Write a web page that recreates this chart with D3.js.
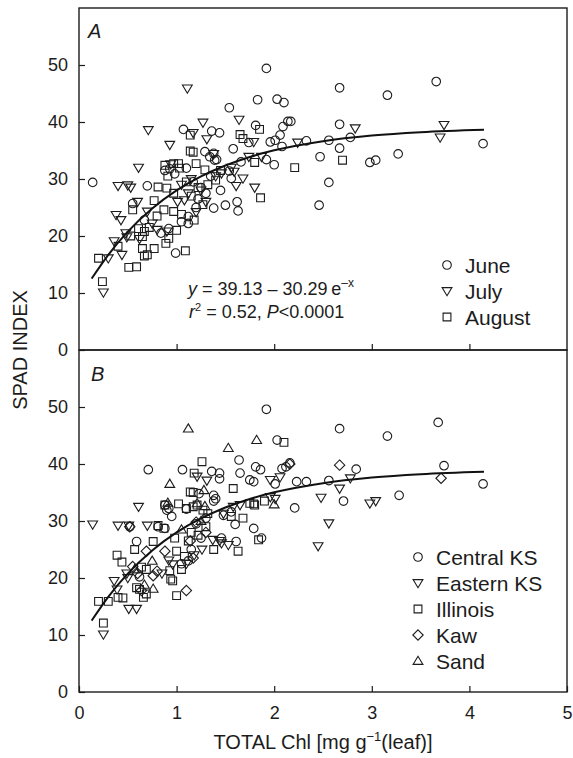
<!DOCTYPE html>
<html><head><meta charset="utf-8">
<script src="https://cdn.jsdelivr.net/npm/d3@7"></script>
<style>
body{margin:0;background:#fff}
svg{display:block}
text{font-family:"Liberation Sans",Arial,sans-serif;fill:#1c1c1c}
</style>
</head><body>
<svg id="chart" width="573" height="758"></svg>
<script>
// ---------- data ----------
const xTicks = [0, 1, 2, 3, 4, 5];
const yTicks = [0, 10, 20, 30, 40, 50];
const monthNames = ["June", "July", "August"];
const siteNames = ["Central KS", "Eastern KS", "Illinois", "Kaw", "Sand"];

// Panel A (by month): [TOTAL Chl, SPAD]
const juneA = [[0.14,29.4],[0.70,28.8],[0.67,22.8],[0.84,20.5],[0.92,21.3],[0.99,17.0],[0.93,31.8],[0.98,30.9],
 [1.07,38.7],[1.36,38.4],[1.44,38.1],[1.29,34.8],[1.38,34.5],[1.39,33.3],[1.58,35.3],[1.54,42.5],[1.81,39.4],
 [1.83,43.9],[1.92,49.4],[2.03,44.0],[2.10,43.4],[1.74,36.4],[1.96,36.5],[2.01,36.8],[2.06,37.7],[2.09,39.2],
 [2.14,40.1],[2.17,40.1],[2.08,35.7],[2.33,36.7],[2.47,33.9],[2.67,46.0],[3.16,44.7],[3.66,47.1],[2.67,39.6],
 [2.78,37.3],[2.56,36.8],[2.67,35.4],[2.98,32.9],[3.04,33.3],[3.27,34.4],[2.56,29.4],[2.46,25.4],[4.14,36.2],
 [1.92,33.4],[2.00,32.5],[1.66,33.0],[1.54,31.4],[1.56,30.1],[1.50,25.4],[1.62,26.0],[1.63,24.4],[1.38,24.9],
 [1.05,22.5],[1.12,22.2],[1.12,23.4],[1.10,31.9],[0.88,31.5],[1.17,29.5],[1.25,28.5],[1.22,26.5],[1.30,27.5],
 [1.20,25.0],[1.45,28.0],[1.35,30.5],[0.55,25.7],[1.34,33.9],[1.41,33.4]];
const julyA = [[1.11,45.9],[1.27,39.9],[1.64,40.4],[0.71,38.6],[1.17,38.1],[1.31,37.0],[1.79,36.5],[2.24,36.4],
 [0.93,36.0],[1.38,34.4],[0.61,32.0],[0.40,28.8],[0.50,28.9],[0.53,28.5],[2.83,38.9],[3.74,39.5],[3.70,37.3],
 [1.74,33.9],[1.87,33.9],[1.56,32.0],[1.46,31.0],[1.68,30.1],[1.61,28.8],[1.80,28.5],[1.59,31.3],[0.60,26.0],
 [0.70,24.3],[0.38,23.7],[0.43,22.8],[1.01,26.0],[1.08,26.3],[0.75,22.2],[0.80,21.1],[0.48,20.5],[0.49,19.8],
 [0.36,19.1],[0.44,16.7],[0.30,16.1],[0.25,10.1],[0.94,32.6],[1.15,30.0],[1.25,28.0],[1.30,26.0],[1.20,24.2],
 [1.12,27.5],[0.62,19.5],[0.90,20.8],[1.40,30.5],[1.05,29.0]];
const augustA = [[1.14,37.7],[1.85,38.7],[1.65,37.8],[1.68,37.1],[1.14,34.9],[1.17,34.7],[2.21,32.0],[1.02,32.7],
 [1.20,32.7],[0.81,28.6],[0.90,28.4],[2.70,33.3],[1.86,26.7],[1.80,32.9],[0.88,32.4],[0.97,32.7],[1.03,31.9],
 [1.29,31.6],[0.77,26.2],[0.55,24.6],[0.87,24.6],[0.97,24.3],[0.61,21.3],[0.67,20.8],[0.92,19.6],[0.89,18.7],
 [0.65,19.9],[0.53,20.0],[0.40,18.2],[0.20,16.1],[0.65,17.8],[0.77,17.8],[0.67,16.5],[0.70,16.7],[1.09,17.4],
 [0.51,14.5],[0.59,14.6],[0.24,12.0],[0.91,30.5],[1.10,29.5],[1.15,27.0],[1.22,28.5],[1.27,25.5],[1.05,23.8],
 [1.18,22.8],[1.32,29.0],[0.97,27.5],[1.00,21.0],[0.80,23.5],[1.40,29.8],[1.45,31.5],[0.72,21.5]];

// Panel B (by site)
const centralKS = [[1.92,49.6],[2.03,44.2],[1.64,40.7],[0.71,39.0],[1.06,39.0],[1.36,38.7],[1.44,38.4],[1.81,39.5],
 [1.86,39.0],[2.12,39.5],[2.16,40.2],[2.08,39.2],[1.65,38.4],[1.75,37.2],[1.79,36.9],[2.01,36.5],[2.23,36.9],
 [2.21,32.3],[1.38,34.5],[1.40,33.9],[0.90,31.9],[0.95,30.8],[1.60,29.4],[1.79,28.7],[0.52,29.0],[0.81,29.0],
 [0.88,28.7],[1.46,27.0],[1.87,27.0],[2.67,46.2],[3.16,44.9],[3.68,47.3],[2.84,39.1],[3.74,39.7],[2.33,36.9],
 [2.56,37.1],[2.71,33.5],[3.28,34.5],[4.14,36.5],[1.44,37.4],[1.38,33.5],[0.88,32.8],[0.92,32.2],[1.10,32.1],
 [1.56,31.6],[1.48,31.0],[0.59,26.4],[1.61,26.4],[1.20,29.5],[1.25,27.0],[1.15,25.0],[1.05,22.5],[1.12,23.0],
 [0.62,20.2],[1.30,30.5],[1.23,34.8]];
const easternKS = [[1.31,37.1],[1.96,37.2],[2.06,37.7],[1.96,34.2],[2.01,33.9],[0.61,32.5],[0.14,29.4],[0.40,29.2],
 [0.51,29.2],[0.70,29.2],[2.78,37.5],[2.67,35.7],[2.48,34.1],[2.98,33.1],[3.04,33.5],[2.56,29.6],[2.45,25.6],
 [1.48,31.3],[1.58,32.5],[1.65,32.8],[1.46,26.1],[1.53,25.8],[1.37,26.7],[1.44,26.5],[0.92,23.1],[0.96,22.4],
 [1.10,22.5],[0.49,20.8],[0.50,20.0],[0.36,19.5],[0.39,18.0],[0.51,14.6],[0.59,14.6],[0.25,10.1],[1.26,25.0],
 [0.85,20.8],[1.18,24.0],[1.21,37.8]];
const illinois = [[2.10,43.8],[1.26,40.4],[1.18,38.4],[1.14,35.1],[1.17,35.0],[1.58,35.7],[1.79,33.0],[1.90,33.5],
 [0.88,32.8],[1.02,33.0],[1.68,30.5],[1.10,32.2],[1.17,32.5],[1.27,31.9],[1.32,31.3],[1.56,30.8],[1.75,33.1],
 [1.80,32.8],[1.84,26.7],[1.38,25.0],[1.63,24.7],[0.81,29.2],[0.87,28.7],[0.76,26.4],[0.57,25.0],[0.39,24.0],
 [0.44,22.8],[1.00,24.7],[1.08,23.8],[1.05,21.5],[0.64,21.9],[0.69,21.5],[0.93,21.3],[0.94,19.8],[0.96,19.5],
 [0.59,18.3],[0.62,18.0],[0.69,17.2],[0.66,16.6],[1.00,16.9],[0.40,16.6],[0.45,16.5],[0.20,15.9],[0.30,15.9],
 [0.25,12.1],[1.21,32.8],[1.15,28.0],[1.22,27.5],[1.30,29.0],[0.98,27.0],[1.12,26.5]];
const kaw = [[0.52,29.0],[2.67,39.8],[3.71,37.5],[0.69,24.7],[0.88,24.7],[0.76,20.4],[0.80,21.2],[0.64,17.8],
 [1.10,17.8],[1.20,29.8],[1.30,28.0],[1.14,26.5],[0.60,20.8],[2.16,40.0],[1.17,23.5],[0.55,22.0]];
const sand = [[1.12,46.2],[1.82,44.2],[1.53,42.8],[0.93,36.5],[1.28,35.4],[2.00,32.9],[1.21,33.1],[0.91,33.2],
 [1.29,32.6],[0.76,18.1],[0.67,18.8],[0.75,23.0],[1.25,30.0],[1.05,28.5],[0.57,21.5]];

// Fitted curve y = 39.13 - 30.29 e^-x
const fitX = [0.13, 0.3, 0.5, 0.75, 1.0, 1.25, 1.5, 1.75, 2.0, 2.5, 3.0, 3.5, 4.15];
const fitY = [12.53, 16.69, 20.76, 24.82, 27.99, 30.45, 32.37, 33.87, 35.03, 36.64, 37.62, 38.22, 38.65];

// ---------- drawing ----------
const svg = d3.select("#chart");
const left = 79, right = 567;
const ink = "#1c1c1c";
const x = d3.scaleLinear().domain([0, 5]).range([left, right]);

const shapes = {
  circle: "M4.3,0A4.3,4.3,0,1,1,-4.3,0A4.3,4.3,0,1,1,4.3,0Z",
  down: "M-4.9,-3.4L4.9,-3.4L0,4.8Z",
  up: "M-4.9,3.4L4.9,3.4L0,-4.8Z",
  square: "M-3.9,-3.9H3.9V3.9H-3.9Z",
  diamond: "M0,-5.2L5.2,0L0,5.2L-5.2,0Z"
};

const panels = [
  {top: 8, bottom: 350, label: "A", labelX: 88, labelY: 38,
   series: [{data: juneA, shape: "circle", name: monthNames[0]},
            {data: julyA, shape: "down", name: monthNames[1]},
            {data: augustA, shape: "square", name: monthNames[2]}],
   legX: 447, legY: 265, xLabels: false},
  {top: 350, bottom: 692, label: "B", labelX: 91, labelY: 381,
   series: [{data: centralKS, shape: "circle", name: siteNames[0]},
            {data: easternKS, shape: "down", name: siteNames[1]},
            {data: illinois, shape: "square", name: siteNames[2]},
            {data: kaw, shape: "diamond", name: siteNames[3]},
            {data: sand, shape: "up", name: siteNames[4]}],
   legX: 418, legY: 557, xLabels: true}
];

panels.forEach(p => {
  const y = d3.scaleLinear().domain([0, 60]).range([p.bottom, p.top]);
  const g = svg.append("g");

  // points
  p.series.forEach(s => {
    g.append("g").selectAll("path").data(s.data).join("path")
      .attr("d", shapes[s.shape])
      .attr("transform", d => `translate(${x(d[0])},${y(d[1])})`)
      .attr("fill", "none").attr("stroke", ink).attr("stroke-width", 1.1);
  });

  // fit line
  const line = d3.line().x((d, i) => x(fitX[i])).y(d => y(d)).curve(d3.curveMonotoneX);
  g.append("path").attr("d", line(fitY))
    .attr("fill", "none").attr("stroke", "#111").attr("stroke-width", 2);

  // left axis
  const ya = g.append("g").attr("transform", `translate(${left},0)`)
    .call(d3.axisLeft(y).tickValues(yTicks).tickSize(-6).tickPadding(11));
  ya.select(".domain").remove();
  ya.selectAll("line").attr("stroke", ink).attr("stroke-width", 1.2);
  ya.selectAll("text").attr("font-size", 18).attr("font-family", "Liberation Sans, Arial, sans-serif").attr("fill", ink);

  // bottom axis
  const xa = g.append("g").attr("transform", `translate(0,${p.bottom})`)
    .call(d3.axisBottom(x).tickValues(p.xLabels ? xTicks : xTicks.slice(1, 5))
      .tickSize(-6).tickPadding(14).tickFormat(p.xLabels ? d3.format("d") : () => ""));
  xa.select(".domain").remove();
  xa.selectAll("line").attr("stroke", ink).attr("stroke-width", 1.2);
  xa.selectAll("text").attr("font-size", 18).attr("font-family", "Liberation Sans, Arial, sans-serif").attr("fill", ink);

  // frame
  g.append("rect").attr("x", left).attr("y", p.top)
    .attr("width", right - left).attr("height", p.bottom - p.top)
    .attr("fill", "none").attr("stroke", ink).attr("stroke-width", 1.4);

  // panel letter
  g.append("text").attr("x", p.labelX).attr("y", p.labelY)
    .attr("font-size", 20).attr("font-style", "italic").text(p.label);

  // legend
  p.series.forEach((s, i) => {
    const ly = p.legY + i * 26;
    g.append("path").attr("d", shapes[s.shape])
      .attr("transform", `translate(${p.legX},${ly})`)
      .attr("fill", "none").attr("stroke", ink).attr("stroke-width", 1.1);
    g.append("text").attr("x", p.legX + 18).attr("y", ly + 7.5)
      .attr("font-size", 21).text(s.name);
  });
});

// equation (panel A)
const eq = svg.append("g").attr("font-size", 18);
const t1 = eq.append("text").attr("x", 188).attr("y", 295);
t1.append("tspan").attr("font-style", "italic").text("y");
t1.append("tspan").text(" = 39.13 \u2013 30.29\u2009e");
t1.append("tspan").attr("font-size", 12).attr("dy", -8).text("\u2013x");
const t2 = eq.append("text").attr("x", 189).attr("y", 318);
t2.append("tspan").attr("font-style", "italic").text("r");
t2.append("tspan").attr("font-size", 11).attr("dy", -7).text("2");
t2.append("tspan").attr("dy", 7).text(" = 0.52, ");
t2.append("tspan").attr("font-style", "italic").text("P");
t2.append("tspan").text("<0.0001");

// axis titles
svg.append("text").attr("transform", "translate(27,350) rotate(-90)")
  .attr("text-anchor", "middle").attr("font-size", 20).text("SPAD INDEX");
const xt = svg.append("text").attr("x", 323).attr("y", 749)
  .attr("text-anchor", "middle").attr("font-size", 20);
xt.append("tspan").text("TOTAL Chl [mg g");
xt.append("tspan").attr("font-size", 13).attr("dy", -8).text("\u22121");
xt.append("tspan").attr("dy", 8).text("(leaf)]");
</script>
</body></html>
